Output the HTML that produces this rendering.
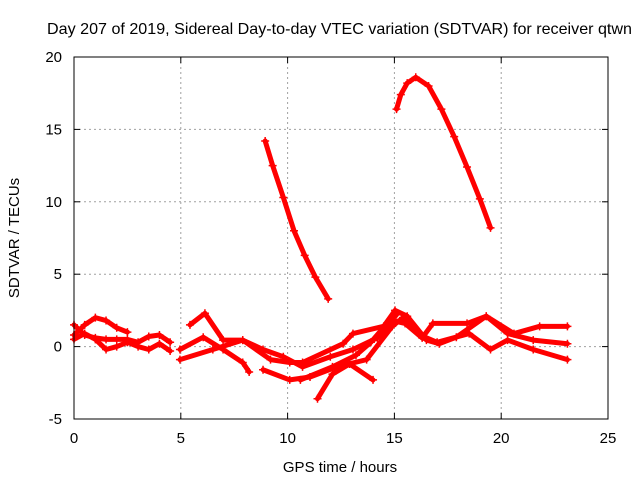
<!DOCTYPE html>
<html><head><meta charset="utf-8"><style>
html,body{margin:0;padding:0;background:#fff}
svg text{font-family:"Liberation Sans",sans-serif;font-size:15px;fill:#000}
</style></head><body>
<svg id="c" width="640" height="480" xmlns="http://www.w3.org/2000/svg">
<text x="339.5" y="34" text-anchor="middle" textLength="585" lengthAdjust="spacingAndGlyphs" style="font-size:16px">Day 207 of 2019, Sidereal Day-to-day VTEC variation (SDTVAR) for receiver qtwn</text>
<text x="340" y="472" text-anchor="middle">GPS time / hours</text>
<text transform="translate(19,238) rotate(-90)" text-anchor="middle">SDTVAR / TECUs</text>
<g id="grid"></g><g id="marks"></g><g id="axes"></g>
</svg>
<script>
const xTicks=[0,5,10,15,20,25];
const yTicks=[-5,0,5,10,15,20];
const seriesSteep1=[[8.95,14.2],[9.3,12.5],[9.8,10.3],[10.3,8.0],[10.8,6.3],[11.3,4.8],[11.9,3.3]];
const seriesSteep2=[[15.1,16.4],[15.3,17.4],[15.6,18.2],[16.0,18.6],[16.6,18.0],[17.2,16.4],[17.8,14.5],[18.4,12.4],[19.0,10.2],[19.5,8.2]];
const seriesL1=[[0,0.8],[0.5,1.5],[1,2.0],[1.5,1.8],[2,1.3],[2.5,1.0]];
const seriesL2=[[0,1.5],[0.5,0.8],[1,0.6],[1.5,0.5],[2,0.5],[2.5,0.5],[3,0.3],[3.5,0.7],[4,0.8],[4.5,0.3]];
const seriesL3=[[0,0.5],[0.5,0.9],[1,0.5],[1.5,-0.2],[2,0.0],[2.5,0.3],[3,0.0],[3.5,-0.2],[4,0.2],[4.5,-0.3]];
const seriesL4=[[5.43,1.5],[6.13,2.3],[6.98,0.45],[7.9,0.45],[9.2,-0.9],[10.1,-1.1],[10.7,-1.1],[12.6,0.2],[13.06,0.9],[14.5,1.4],[15.03,2.5],[15.6,2.1],[16.5,0.45],[17.1,0.2],[17.9,0.65],[19.3,2.1],[20.3,0.9],[21.5,0.45],[23.1,0.2]];
const seriesL5=[[4.96,-0.2],[6.05,0.65],[6.98,-0.2],[7.9,-1.1],[8.2,-1.75]];
const seriesL6=[[4.96,-0.9],[6.5,-0.2],[7.9,0.45],[8.85,-0.2],[9.8,-0.7],[10.7,-1.4],[12.0,-0.7],[13.06,-0.2],[14.2,0.6],[14.9,1.8],[15.5,1.6],[16.3,0.6],[16.8,1.6],[18.4,1.6],[19.3,2.1],[20.6,0.9],[21.8,1.4],[23.1,1.4]];
const seriesL7=[[8.85,-1.6],[10.1,-2.3],[11.05,-2.1],[12.3,-1.4],[13.7,-0.9],[14.9,1.4],[15.4,2.0],[16.2,0.8],[17.0,0.3],[18.5,0.9],[19.5,-0.2],[20.3,0.45],[21.5,-0.2],[23.1,-0.9]];
const seriesL8=[[11.4,-3.6],[12.1,-1.9],[12.9,-1.2],[14.0,-2.3]];
const seriesL9=[[10.6,-2.3],[12.1,-1.4],[13.2,-0.6],[13.9,0.3],[14.6,1.5],[15.1,2.2]];
const allSeries=[seriesSteep1,seriesSteep2,seriesL1,seriesL2,seriesL3,seriesL4,seriesL5,seriesL6,seriesL7,seriesL8,seriesL9];
const X0=74,X1=608,Y0=419,Y1=57;
const sx=v=>X0+(v-0)/25*(X1-X0);
const sy=v=>Y0-(v+5)/25*(Y0-Y1);
const NS="http://www.w3.org/2000/svg";
function mk(tag,attrs,parent){const e=document.createElementNS(NS,tag);for(const k in attrs)e.setAttribute(k,attrs[k]);parent.appendChild(e);return e;}
const grid=document.getElementById('grid'),axes=document.getElementById('axes'),marks=document.getElementById('marks');
xTicks.forEach(t=>{
  const x=sx(t);
  if(t>0&&t<25){const g=mk('line',{x1:x,x2:x,y1:Y1,y2:Y0,stroke:'#a0a0a0','stroke-dasharray':'2,3'},grid);
  
  }
  mk('line',{x1:x,x2:x,y1:Y0,y2:Y0-6,stroke:'#000'},axes);
  mk('line',{x1:x,x2:x,y1:Y1,y2:Y1+6,stroke:'#000'},axes);
  const tx=mk('text',{x:x,y:Y0+24,'text-anchor':'middle'},axes);tx.textContent=t;
  
  
});
yTicks.forEach(t=>{
  const y=sy(t);
  if(t>-5&&t<20){const g=mk('line',{x1:X0,x2:X1,y1:y,y2:y,stroke:'#a0a0a0','stroke-dasharray':'2,3'},grid);
  
  }
  mk('line',{x1:X0,x2:X0+6,y1:y,y2:y,stroke:'#000'},axes);
  mk('line',{x1:X1,x2:X1-6,y1:y,y2:y,stroke:'#000'},axes);
  const tx=mk('text',{x:X0-12,y:y+5,'text-anchor':'end'},axes);tx.textContent=t;
  
  
});
const fr=mk('rect',{x:X0,y:Y1,width:X1-X0,height:Y0-Y1,fill:'none',stroke:'#000'},axes);


allSeries.forEach((s,i)=>{
  const pl=mk('polyline',{points:s.map(p=>sx(p[0])+','+sy(p[1])).join(' '),fill:'none',stroke:'#f00','stroke-width':5,'stroke-linejoin':'round','stroke-linecap':'round'},marks);
  
  
  s.forEach(p=>{const x=sx(p[0]),y=sy(p[1]);
    const m=mk('path',{d:`M${x-4},${y}H${x+4}M${x},${y-4}V${y+4}`,stroke:'#f00','stroke-width':1.5},marks);
    
    
  });
});
</script>
</body></html>
